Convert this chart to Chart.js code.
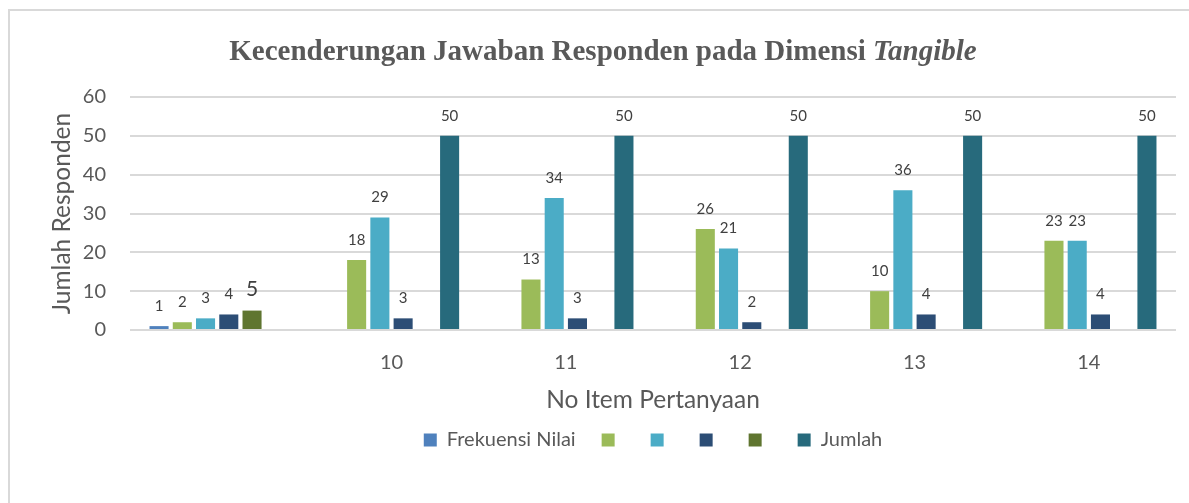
<!DOCTYPE html>
<html lang="id">
<head>
    <meta charset="UTF-8">
    <title>Kecenderungan Jawaban Responden pada Dimensi Tangible</title>
    <script src="https://cdn.jsdelivr.net/npm/chart.js"></script>
    <style>
        html, body { margin: 0; padding: 0; background: #fff; }
        #wrap { position: relative; width: 1189px; height: 503px; overflow: hidden; }
        #frame {
            position: absolute; left: 8px; top: 9px; width: 1200px; height: 520px;
            border-left: 2px solid #d9d9d9; border-top: 2px solid #d9d9d9;
            pointer-events: none;
        }
        #title {
            position: absolute; left: 0; width: 1206px; top: 32px; margin: 0;
            text-align: center; font-family: "Liberation Serif", "Times New Roman", serif;
            font-size: 29px; line-height: 36px; font-weight: bold; color: #595959;
        }
        #chart { position: absolute; left: 0; top: 0; }
    </style>
</head>
<body>
    <div id="wrap">
        <canvas id="chart" width="1189" height="503"></canvas>
        <div id="frame"></div>
        <h1 id="title">Kecenderungan Jawaban Responden pada Dimensi <i>Tangible</i></h1>
    </div>

    <script>
        // chart data
        const categories = ['', '10', '11', '12', '13', '14'];
        const frekuensiNilai = [1, null, null, null, null, null];
        const nilai2 = [2, 18, 13, 26, 10, 23];
        const nilai3 = [3, 29, 34, 21, 36, 23];
        const nilai4 = [4, 3, 3, 2, 4, 4];
        const nilai5 = [5, null, null, null, null, null];
        const jumlah = [null, 50, 50, 50, 50, 50];
        const yTicks = [0, 10, 20, 30, 40, 50, 60];

        const FONT = 'Lato, "Open Sans", sans-serif';

        // value labels above each bar
        const barLabels = {
            id: 'barLabels',
            afterDatasetsDraw(chart) {
                const ctx = chart.ctx;
                ctx.save();
                ctx.fillStyle = '#404040';
                ctx.textAlign = 'center';
                ctx.textBaseline = 'middle';
                chart.data.datasets.forEach((ds, i) => {
                    const meta = chart.getDatasetMeta(i);
                    meta.data.forEach((bar, j) => {
                        const v = ds.data[j];
                        if (v === null || v === undefined) return;
                        const big = i === 4;
                        ctx.font = (big ? 21 : 15) + 'px ' + FONT;
                        ctx.fillText(String(v), bar.x, bar.y - (big ? 21 : 20));
                    });
                });
                ctx.restore();
            }
        };

        new Chart(document.getElementById('chart').getContext('2d'), {
            type: 'bar',
            data: {
                labels: categories,
                datasets: [
                    { label: 'Frekuensi Nilai', data: frekuensiNilai, backgroundColor: '#4f81bd' },
                    { label: '', data: nilai2, backgroundColor: '#9bbb59' },
                    { label: '', data: nilai3, backgroundColor: '#4bacc6' },
                    { label: '', data: nilai4, backgroundColor: '#2c4d75' },
                    { label: '', data: nilai5, backgroundColor: '#5f7530' },
                    { label: 'Jumlah', data: jumlah, backgroundColor: '#276a7c' }
                ]
            },
            options: {
                responsive: false,
                animation: false,
                categoryPercentage: 0.8,
                barPercentage: 0.82,
                layout: { padding: { top: 97, left: 0, right: 13, bottom: 43 } },
                plugins: {
                    title: { display: false },
                    tooltip: { enabled: false },
                    legend: {
                        position: 'bottom',
                        fullSize: false,
                        labels: {
                            boxWidth: 13,
                            boxHeight: 13,
                            padding: 26,
                            color: '#595959',
                            font: { family: FONT, size: 20 }
                        }
                    }
                },
                scales: {
                    x: {
                        afterFit(scale) { scale.height = 74; },
                        grid: { display: false },
                        border: { display: false },
                        ticks: { color: '#595959', padding: 13, font: { family: FONT, size: 20 } },
                        title: {
                            display: true,
                            text: 'No Item Pertanyaan',
                            color: '#595959',
                            padding: { top: 0, bottom: -11 },
                            font: { family: FONT, size: 24.5 }
                        }
                    },
                    y: {
                        min: 0,
                        max: 60,
                        afterFit(scale) { scale.width = 130; },
                        afterBuildTicks(scale) { scale.ticks = yTicks.map(v => ({ value: v })); },
                        grid: { color: '#d9d9d9', lineWidth: 2, drawTicks: false },
                        border: { display: false },
                        ticks: { color: '#595959', padding: 24, font: { family: FONT, size: 20 } },
                        title: {
                            display: true,
                            text: 'Jumlah Responden',
                            color: '#595959',
                            padding: { top: 47, bottom: 0 },
                            font: { family: FONT, size: 24.5 }
                        }
                    }
                }
            },
            plugins: [barLabels]
        });
    </script>
</body>
</html>
